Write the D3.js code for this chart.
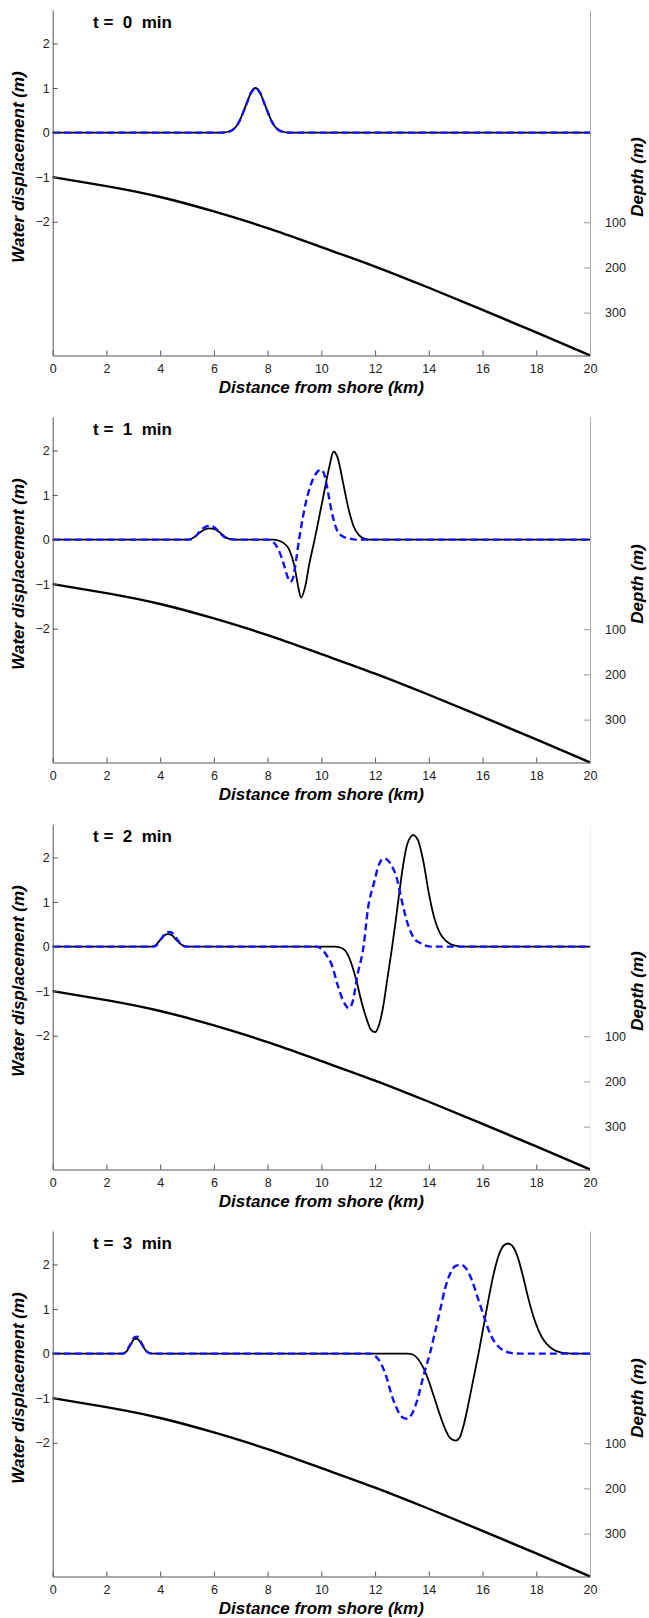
<!DOCTYPE html>
<html>
<head>
<meta charset="utf-8">
<script src="https://cdn.jsdelivr.net/npm/d3@7"></script>
<style>
  body { margin: 0; background: #fff; }
  svg { display: block; font-family: "Liberation Sans", Arial, sans-serif; }
</style>
</head>
<body>
<svg id="chart" width="649" height="1618"></svg>
<script>
// Panel times (minutes)
const panelTimes = [0, 1, 2, 3];

// Tick values
const distanceTicks = [0, 2, 4, 6, 8, 10, 12, 14, 16, 18, 20];
const displacementTicks = [-2, -1, 0, 1, 2];
const depthTicks = [100, 200, 300];

// Bathymetry (depth in m vs distance in km)
const bathyDistance = [0, 2, 4, 6, 8, 10, 12, 14, 16, 18, 20];
const bathyDepth = [0, 20, 44, 76, 113, 155, 198, 245, 294, 344, 395];

// Water displacement, [km, m] — solid black model
const solidT0 = [[0,0],[6.3,0],[6.6,0.03],[6.9,0.2],[7.2,0.62],[7.38,0.89],[7.55,1.0],[7.72,0.89],[7.9,0.62],[8.2,0.2],[8.5,0.03],[8.8,0],[20,0]];
const solidT1 = [[0,0],[5.0,0],[5.2,0.03],[5.4,0.12],[5.6,0.21],[5.8,0.25],[6.0,0.24],[6.2,0.17],[6.4,0.07],[6.6,0.01],[6.8,0],
  [8.2,0],[8.4,-0.02],[8.6,-0.08],[8.8,-0.22],[9.0,-0.6],[9.12,-1.0],[9.25,-1.3],[9.4,-1.05],[9.55,-0.55],[9.75,0],[10.05,0.9],[10.3,1.64],[10.45,1.97],[10.6,1.85],[10.8,1.3],[11.0,0.72],[11.2,0.3],[11.4,0.1],[11.6,0.02],[11.8,0],[20,0]];
const solidT2 = [[0,0],[3.7,0],[3.85,0.04],[4.0,0.15],[4.15,0.25],[4.3,0.28],[4.45,0.25],[4.6,0.15],[4.8,0.04],[5.0,0],
  [10.5,0],[10.7,-0.02],[10.9,-0.1],[11.1,-0.35],[11.3,-0.75],[11.5,-1.25],[11.7,-1.65],[11.85,-1.87],[12.0,-1.92],[12.15,-1.75],[12.3,-1.35],[12.45,-0.75],[12.6,-0.15],[12.75,0.5],[12.9,1.2],[13.05,1.85],[13.2,2.3],[13.42,2.5],[13.6,2.38],[13.8,1.9],[14.0,1.2],[14.2,0.65],[14.4,0.32],[14.6,0.15],[14.8,0.06],[15.0,0.02],[15.2,0],[20,0]];
const solidT3 = [[0,0],[2.6,0],[2.75,0.05],[2.9,0.2],[3.05,0.33],[3.15,0.33],[3.3,0.22],[3.45,0.08],[3.6,0.01],[3.75,0],
  [13.2,0],[13.4,-0.02],[13.6,-0.12],[13.8,-0.32],[14.0,-0.62],[14.2,-0.98],[14.4,-1.35],[14.6,-1.68],[14.8,-1.9],[15.0,-1.95],[15.15,-1.88],[15.3,-1.6],[15.5,-1.05],[15.7,-0.45],[15.85,0],[16.05,0.65],[16.2,1.15],[16.4,1.75],[16.6,2.2],[16.8,2.43],[16.95,2.47],[17.1,2.42],[17.3,2.18],[17.5,1.75],[17.7,1.25],[17.9,0.82],[18.1,0.5],[18.3,0.28],[18.5,0.15],[18.7,0.07],[18.9,0.03],[19.1,0.01],[19.3,0],[20,0]];

// Water displacement, [km, m] — dashed blue model
const dashedT0 = [[0,0],[6.3,0],[6.6,0.03],[6.9,0.2],[7.2,0.62],[7.38,0.89],[7.55,1.0],[7.72,0.89],[7.9,0.62],[8.2,0.2],[8.5,0.03],[8.8,0],[20,0]];
const dashedT1 = [[0,0],[5.1,0],[5.3,0.06],[5.5,0.2],[5.7,0.29],[5.85,0.31],[6.0,0.28],[6.2,0.17],[6.4,0.05],[6.6,0.01],[6.8,0],
  [8.0,0],[8.2,-0.05],[8.4,-0.22],[8.6,-0.55],[8.75,-0.85],[8.85,-0.95],[8.95,-0.85],[9.05,-0.5],[9.17,0],[9.45,0.9],[9.7,1.37],[9.85,1.52],[9.98,1.57],[10.1,1.48],[10.2,1.22],[10.37,0.67],[10.5,0.35],[10.6,0.19],[10.8,0.07],[11.0,0.03],[11.3,0],[20,0]];
const dashedT2 = [[0,0],[3.75,0],[3.9,0.05],[4.05,0.18],[4.2,0.3],[4.35,0.33],[4.5,0.28],[4.65,0.15],[4.8,0.04],[4.95,0],
  [9.8,0],[10.0,-0.05],[10.2,-0.2],[10.4,-0.43],[10.6,-0.85],[10.8,-1.2],[11.03,-1.38],[11.18,-1.2],[11.34,-0.65],[11.57,0],[11.73,0.83],[11.96,1.43],[12.15,1.85],[12.34,1.98],[12.5,1.92],[12.65,1.78],[12.8,1.55],[12.95,1.15],[13.1,0.76],[13.22,0.5],[13.34,0.31],[13.5,0.15],[13.65,0.09],[13.85,0.03],[14.1,0],[20,0]];
const dashedT3 = [[0,0],[2.6,0],[2.75,0.06],[2.9,0.22],[3.05,0.37],[3.15,0.38],[3.3,0.24],[3.45,0.08],[3.6,0.01],[3.7,0],
  [11.8,0],[12.0,-0.05],[12.2,-0.2],[12.42,-0.52],[12.6,-0.9],[12.8,-1.22],[13.0,-1.42],[13.19,-1.46],[13.4,-1.32],[13.6,-0.98],[13.8,-0.5],[14.04,0],[14.2,0.4],[14.42,0.97],[14.6,1.45],[14.8,1.8],[15.0,1.97],[15.2,1.99],[15.4,1.9],[15.6,1.65],[15.85,1.2],[16.1,0.75],[16.3,0.42],[16.5,0.22],[16.7,0.1],[16.9,0.04],[17.1,0.01],[17.4,0],[20,0]];

const solidSeries = [solidT0, solidT1, solidT2, solidT3];
const dashedSeries = [dashedT0, dashedT1, dashedT2, dashedT3];

// Layout
const left = 52.7, right = 590;
const panelTops = [10, 417, 824, 1231];
const panelH = 345.5;

const svg = d3.select("#chart");
svg.append("rect").attr("width", 649).attr("height", 1618).attr("fill", "#fff");

const x = d3.scaleLinear().domain([0, 20]).range([left, right]);

panelTimes.forEach((t, i) => {
    const top = panelTops[i];
    const g = svg.append("g").attr("transform", `translate(0,${top})`);

    const y = d3.scaleLinear().domain([-5, 2.75]).range([panelH, 0]);
    const yDepth = d3.scaleLinear().domain([-370, 395]).range([0, panelH]);

    // bathymetry
    const bathy = bathyDistance.map((d, k) => [d, bathyDepth[k]]);
    g.append("path")
        .datum(bathy)
        .attr("fill", "none")
        .attr("stroke", "#000")
        .attr("stroke-width", 2.4)
        .attr("d", d3.line().x(d => x(d[0])).y(d => yDepth(d[1])).curve(d3.curveNatural));

    // monotone keeps the flat stretches flat
    const line = d3.line().x(d => x(d[0])).y(d => y(d[1])).curve(d3.curveMonotoneX);

    g.append("path")
        .datum(solidSeries[i])
        .attr("fill", "none")
        .attr("stroke", "#000")
        .attr("stroke-width", 1.8)
        .attr("d", line);

    g.append("path")
        .datum(dashedSeries[i])
        .attr("fill", "none")
        .attr("stroke", "#1010ff")
        .attr("stroke-width", 2.4)
        .attr("stroke-dasharray", "7,4")
        .attr("d", line);

    // axes
    const axL = g.append("g")
        .attr("transform", `translate(${left},0)`)
        .call(d3.axisLeft(y).tickValues(displacementTicks).tickSizeInner(-5).tickSizeOuter(0).tickPadding(3));
    axL.select(".domain").attr("stroke", "#555");
    axL.selectAll(".tick line").attr("stroke", "#555");

    const axB = g.append("g")
        .attr("transform", `translate(0,${panelH})`)
        .call(d3.axisBottom(x).tickValues(distanceTicks).tickSizeInner(-5).tickSizeOuter(0).tickPadding(9));
    axB.select(".domain").attr("stroke", "#555");
    axB.selectAll(".tick line").attr("stroke", "#555");

    const axR = g.append("g")
        .attr("transform", `translate(${right},0)`)
        .call(d3.axisRight(yDepth).tickValues(depthTicks).tickSizeInner(-6).tickSizeOuter(0).tickPadding(15));
    axR.select(".domain").attr("stroke", i === 2 ? "#eee" : "#aaa");
    axR.selectAll(".tick line").attr("stroke", "#999");

    g.selectAll(".tick text")
        .attr("fill", "#222")
        .style("font-size", "12.5px")
        .style("font-family", "'Liberation Sans', Arial, sans-serif");

    // labels
    g.append("text")
        .attr("x", 93)
        .attr("y", 18)
        .style("white-space", "pre")
        .style("font-size", "17px")
        .style("font-weight", "bold")
        .text(`t =  ${t}  min`);

    g.append("text")
        .attr("x", (left + right) / 2)
        .attr("y", panelH + 37)
        .attr("text-anchor", "middle")
        .style("font-size", "17px")
        .style("font-weight", "bold")
        .style("font-style", "italic")
        .text("Distance from shore (km)");

    g.append("text")
        .attr("transform", `translate(24,157) rotate(-90)`)
        .attr("text-anchor", "middle")
        .style("font-size", "17px")
        .style("font-weight", "bold")
        .style("font-style", "italic")
        .text("Water displacement (m)");

    g.append("text")
        .attr("transform", `translate(643,167) rotate(-90)`)
        .attr("text-anchor", "middle")
        .style("font-size", "17px")
        .style("font-weight", "bold")
        .style("font-style", "italic")
        .text("Depth (m)");
});
</script>
</body>
</html>
